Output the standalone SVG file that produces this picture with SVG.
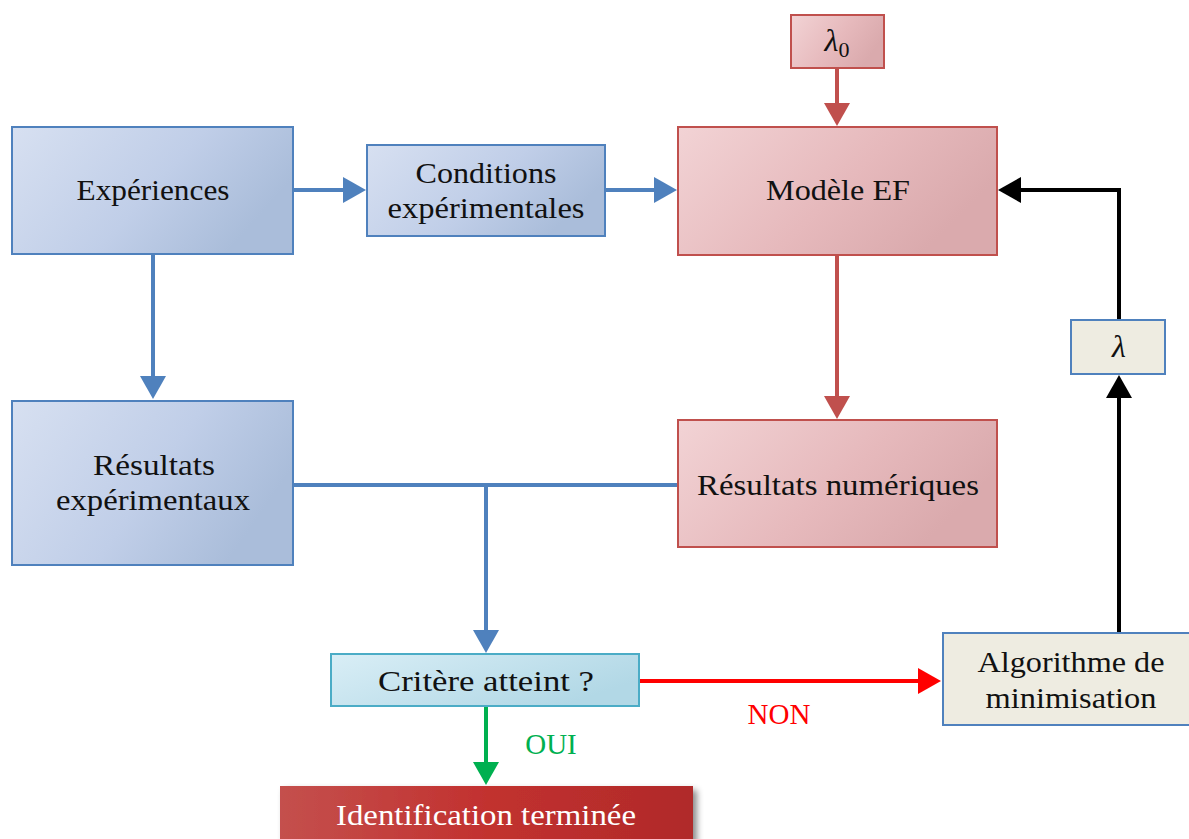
<svg xmlns="http://www.w3.org/2000/svg" width="1189" height="839" viewBox="0 0 1189 839">
<style>
text{font-family:"Liberation Serif","DejaVu Serif",serif;font-size:29px;fill:#111;text-anchor:middle}
.math{font-size:32px;font-style:italic}
.blue{fill:url(#gBlue);stroke:#4f81bd;stroke-width:2}
.red{fill:url(#gRed);stroke:#c0504d;stroke-width:2}
.cyan{fill:url(#gCyan);stroke:#4bacc6;stroke-width:2}
.beige{fill:#eeece1;stroke:#4f81bd;stroke-width:2}
.cb{fill:none;stroke:#4f81bd;stroke-width:4}
.cr{fill:none;stroke:#c0504d;stroke-width:4}
.ck{fill:none;stroke:#000;stroke-width:4}
.cred{fill:none;stroke:#ff0000;stroke-width:4}
.cg{fill:none;stroke:#00b050;stroke-width:4}
</style>
<defs>
<linearGradient id="gBlue" x1="0" y1="0" x2="1" y2="0.4">
<stop offset="0" stop-color="#d7e0f1"/><stop offset="0.6" stop-color="#c0cee8"/><stop offset="1" stop-color="#aabdda"/>
</linearGradient>
<linearGradient id="gRed" x1="0" y1="0" x2="1" y2="0.4">
<stop offset="0" stop-color="#f2d3d5"/><stop offset="0.6" stop-color="#e6b9bc"/><stop offset="1" stop-color="#daaaad"/>
</linearGradient>
<linearGradient id="gCyan" x1="0" y1="0" x2="1" y2="0.5">
<stop offset="0" stop-color="#d9eef6"/><stop offset="1" stop-color="#b2d8e6"/>
</linearGradient>
<linearGradient id="gDark" x1="0" y1="0" x2="1" y2="0">
<stop offset="0" stop-color="#c4504d"/><stop offset="0.5" stop-color="#c2312f"/><stop offset="1" stop-color="#b02a2a"/>
</linearGradient>
<filter id="shadow" x="-5%" y="-20%" width="115%" height="160%">
<feDropShadow dx="4" dy="4" stdDeviation="3" flood-color="#000" flood-opacity="0.45"/>
</filter>
<marker id="aB" markerUnits="userSpaceOnUse" markerWidth="23" markerHeight="26" refX="1" refY="13" orient="auto"><path d="M0,0 L23,13 L0,26 z" fill="#4f81bd"/></marker>
<marker id="aR" markerUnits="userSpaceOnUse" markerWidth="23" markerHeight="26" refX="1" refY="13" orient="auto"><path d="M0,0 L23,13 L0,26 z" fill="#c0504d"/></marker>
<marker id="aK" markerUnits="userSpaceOnUse" markerWidth="23" markerHeight="26" refX="1" refY="13" orient="auto"><path d="M0,0 L23,13 L0,26 z" fill="#000"/></marker>
<marker id="aRed" markerUnits="userSpaceOnUse" markerWidth="23" markerHeight="26" refX="1" refY="13" orient="auto"><path d="M0,0 L23,13 L0,26 z" fill="#ff0000"/></marker>
<marker id="aG" markerUnits="userSpaceOnUse" markerWidth="23" markerHeight="26" refX="1" refY="13" orient="auto"><path d="M0,0 L23,13 L0,26 z" fill="#00b050"/></marker>
</defs>
<rect width="1189" height="839" fill="#fff"/>

<g id="connectors">
<line class="cb" x1="293" y1="190" x2="344" y2="190" marker-end="url(#aB)"/>
<line class="cb" x1="605" y1="190" x2="655" y2="190" marker-end="url(#aB)"/>
<line class="cb" x1="153" y1="254" x2="153" y2="377" marker-end="url(#aB)"/>
<line class="cr" x1="837" y1="68" x2="837" y2="104" marker-end="url(#aR)"/>
<line class="cr" x1="837" y1="255" x2="837" y2="397" marker-end="url(#aR)"/>
<line class="cb" x1="293" y1="485" x2="678" y2="485"/>
<line class="cb" x1="486" y1="485" x2="486" y2="631" marker-end="url(#aB)"/>
<line class="cg" x1="486" y1="706" x2="486" y2="763" marker-end="url(#aG)"/>
<line class="cred" x1="639" y1="681" x2="919" y2="681" marker-end="url(#aRed)"/>
<line class="ck" x1="1119" y1="633" x2="1119" y2="397" marker-end="url(#aK)"/>
<polyline class="ck" points="1119,320 1119,190 1020,190" marker-end="url(#aK)"/>
<text x="551" y="754" style="fill:#00b050">OUI</text>
<text x="779" y="724" style="fill:#ff0000">NON</text>
</g>

<g id="lambda0">
<rect class="red" x="791" y="15" width="93" height="53"/>
<text x="837" y="51" class="math">λ<tspan style="font-size:22px;font-style:normal" dy="6">0</tspan></text>
</g>

<g id="experiences">
<rect class="blue" x="12" y="127" width="281" height="127"/>
<text x="153" y="200" textLength="153" lengthAdjust="spacingAndGlyphs">Expériences</text>
</g>

<g id="conditions">
<rect class="blue" x="367" y="145" width="238" height="91"/>
<text x="486" y="183" textLength="141" lengthAdjust="spacingAndGlyphs">Conditions</text>
<text x="486" y="218" textLength="197" lengthAdjust="spacingAndGlyphs">expérimentales</text>
</g>

<g id="modele">
<rect class="red" x="678" y="127" width="319" height="128"/>
<text x="838" y="200" textLength="144" lengthAdjust="spacingAndGlyphs">Modèle EF</text>
</g>

<g id="resultats-exp">
<rect class="blue" x="12" y="401" width="281" height="164"/>
<text x="154" y="475" textLength="122" lengthAdjust="spacingAndGlyphs">Résultats</text>
<text x="153" y="510" textLength="194" lengthAdjust="spacingAndGlyphs">expérimentaux</text>
</g>

<g id="resultats-num">
<rect class="red" x="678" y="420" width="319" height="127"/>
<text x="838" y="495" textLength="282" lengthAdjust="spacingAndGlyphs">Résultats numériques</text>
</g>

<g id="lambda">
<rect class="beige" x="1071" y="320" width="94" height="54"/>
<text x="1119" y="357" class="math">λ</text>
</g>

<g id="critere">
<rect class="cyan" x="331" y="654" width="308" height="52"/>
<text x="486" y="691" textLength="216" lengthAdjust="spacingAndGlyphs">Critère atteint ?</text>
</g>

<g id="algorithme">
<rect class="beige" x="943" y="633" width="250" height="92"/>
<text x="1071" y="672" textLength="187" lengthAdjust="spacingAndGlyphs">Algorithme de</text>
<text x="1071" y="708" textLength="171" lengthAdjust="spacingAndGlyphs">minimisation</text>
</g>

<g id="identification">
<rect x="280" y="786" width="413" height="70" fill="url(#gDark)" filter="url(#shadow)"/>
<text x="486" y="825" textLength="300" lengthAdjust="spacingAndGlyphs" style="fill:#fff">Identification terminée</text>
</g>
</svg>
